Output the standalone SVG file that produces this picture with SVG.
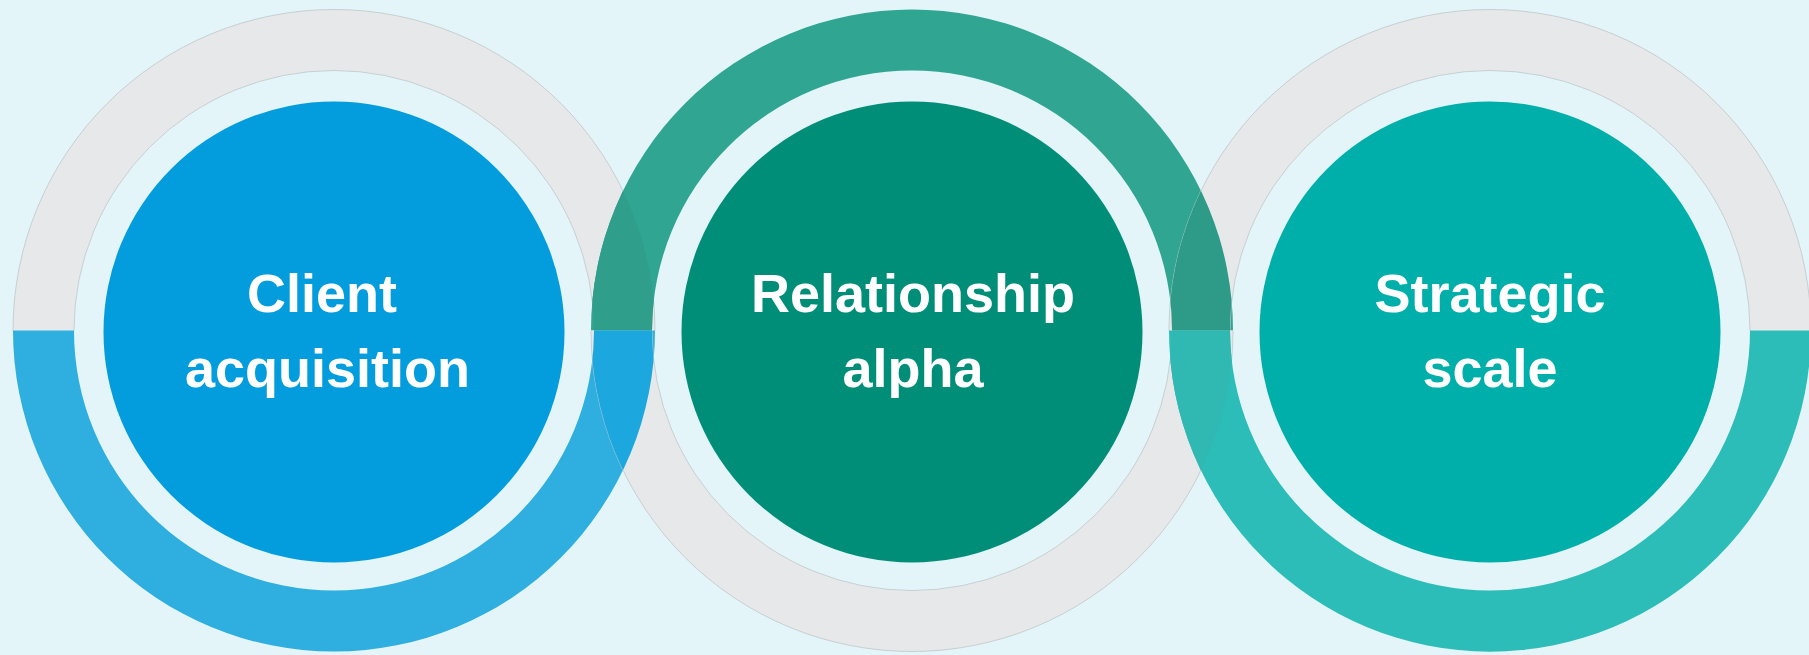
<svg xmlns="http://www.w3.org/2000/svg" xmlns:xlink="http://www.w3.org/1999/xlink" width="1809" height="655" viewBox="0 0 1809 655">
  <style>
    .lbl { font-family: "Liberation Sans", Arial, sans-serif; font-weight: bold; font-size: 54px; fill: #FFFFFF; text-anchor: middle; }
    .gap { fill: #E3F5F8; }
    .edge { fill: none; stroke: #BFC6CA; stroke-width: 0.8; }
  </style>
  <defs>
    <clipPath id="top"><rect x="0" y="0" width="1809" height="330.5"/></clipPath>
    <clipPath id="bottom"><rect x="0" y="330.5" width="1809" height="325"/></clipPath>
    <path id="ring1" fill-rule="evenodd" d="M13,330.5 a321,321 0 1,0 642,0 a321,321 0 1,0 -642,0 Z M74,330.5 a260,260 0 1,0 520,0 a260,260 0 1,0 -520,0 Z"/>
    <path id="ring2" fill-rule="evenodd" d="M591,330.5 a321,321 0 1,0 642,0 a321,321 0 1,0 -642,0 Z M652,330.5 a260,260 0 1,0 520,0 a260,260 0 1,0 -520,0 Z"/>
    <path id="ring3" fill-rule="evenodd" d="M1169,330.5 a321,321 0 1,0 642,0 a321,321 0 1,0 -642,0 Z M1230,330.5 a260,260 0 1,0 520,0 a260,260 0 1,0 -520,0 Z"/>
    <clipPath id="ann1"><path clip-rule="evenodd" d="M13,330.5 a321,321 0 1,0 642,0 a321,321 0 1,0 -642,0 Z M74,330.5 a260,260 0 1,0 520,0 a260,260 0 1,0 -520,0 Z"/></clipPath>
    <clipPath id="ann2"><path clip-rule="evenodd" d="M591,330.5 a321,321 0 1,0 642,0 a321,321 0 1,0 -642,0 Z M652,330.5 a260,260 0 1,0 520,0 a260,260 0 1,0 -520,0 Z"/></clipPath>
    <clipPath id="ann3"><path clip-rule="evenodd" d="M1169,330.5 a321,321 0 1,0 642,0 a321,321 0 1,0 -642,0 Z M1230,330.5 a260,260 0 1,0 520,0 a260,260 0 1,0 -520,0 Z"/></clipPath>
  </defs>

  <rect x="0" y="0" width="1809" height="655" fill="#E3F5F8"/>

  <g id="node-client-acquisition">
    <g clip-path="url(#top)">
      <use xlink:href="#ring1" fill="#E6E8EA"/>
      <circle class="edge" cx="334" cy="330.5" r="321"/>
      <circle class="edge" cx="334" cy="330.5" r="260"/>
    </g>
    <g clip-path="url(#bottom)">
      <use xlink:href="#ring1" fill="#2FAEE0"/>
    </g>
  </g>

  <g id="node-relationship-alpha">
    <g clip-path="url(#top)">
      <use xlink:href="#ring2" fill="#30A692"/>
    </g>
    <g clip-path="url(#bottom)">
      <use xlink:href="#ring2" fill="#E6E8EA"/>
      <circle class="edge" cx="912" cy="330.5" r="321"/>
      <circle class="edge" cx="912" cy="330.5" r="260"/>
    </g>
  </g>

  <g id="node-strategic-scale">
    <g clip-path="url(#top)">
      <use xlink:href="#ring3" fill="#E6E8EA"/>
      <circle class="edge" cx="1490" cy="330.5" r="321"/>
      <circle class="edge" cx="1490" cy="330.5" r="260"/>
    </g>
    <g clip-path="url(#bottom)">
      <use xlink:href="#ring3" fill="#2DBDB8"/>
    </g>
  </g>

  <g id="overlaps">
    <g clip-path="url(#top)">
      <use xlink:href="#ring2" fill="#2F9E8A" clip-path="url(#ann1)"/>
      <use xlink:href="#ring2" fill="#2E9A88" clip-path="url(#ann3)"/>
    </g>
    <g clip-path="url(#bottom)">
      <use xlink:href="#ring1" fill="#1CA7DE" clip-path="url(#ann2)"/>
      <use xlink:href="#ring3" fill="#30B8B3" clip-path="url(#ann2)"/>
    </g>
  </g>

  <g id="node-client-acquisition-core">
    <circle cx="334" cy="332" r="230.5" fill="#039DDD"/>
    <text class="lbl" x="322" y="312">Client</text>
    <text class="lbl" x="327.5" y="387">acquisition</text>
  </g>

  <g id="node-relationship-alpha-core">
    <circle cx="912" cy="332" r="230.5" fill="#008E78"/>
    <text class="lbl" x="913" y="312">Relationship</text>
    <text class="lbl" x="913" y="387">alpha</text>
  </g>

  <g id="node-strategic-scale-core">
    <circle cx="1490" cy="332" r="230.5" fill="#00AFA9"/>
    <text class="lbl" x="1490" y="312">Strategic</text>
    <text class="lbl" x="1490" y="387">scale</text>
  </g>

  <g id="connectors"/>
</svg>
